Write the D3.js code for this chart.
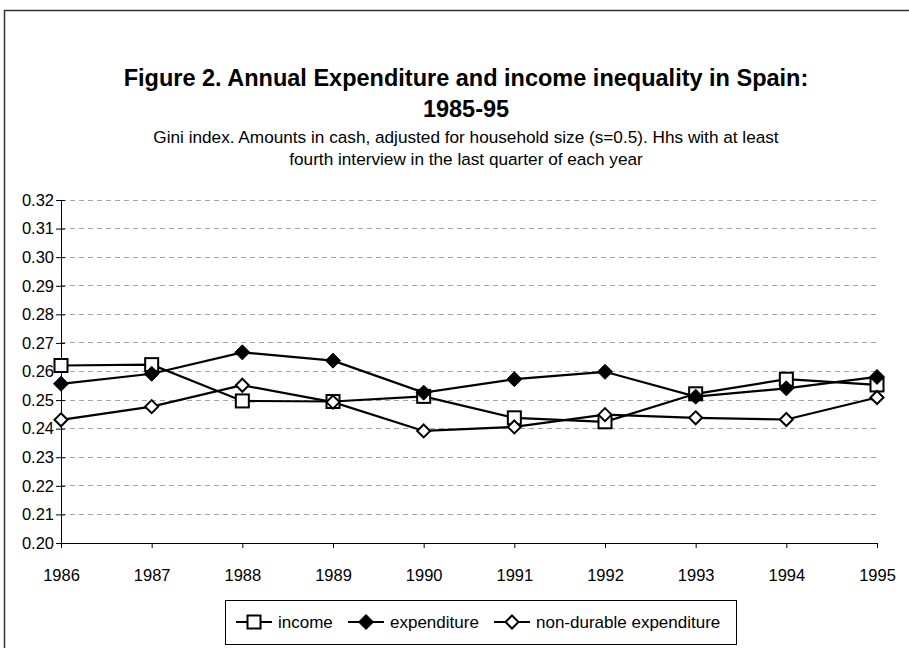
<!DOCTYPE html>
<html><head><meta charset="utf-8">
<script src="https://cdn.jsdelivr.net/npm/d3@7"></script>
<style>body{margin:0;background:#fff}svg{display:block;font-family:"Liberation Sans",Arial,sans-serif}</style>
</head><body><svg id="c" width="909" height="648"></svg>
<script>
const years = [1986,1987,1988,1989,1990,1991,1992,1993,1994,1995];
const income = [0.2621,0.2624,0.2497,0.2495,0.2513,0.2438,0.2424,0.2522,0.2573,0.2553];
const expenditure = [0.2557,0.2592,0.2667,0.2638,0.2526,0.2573,0.2599,0.2512,0.2541,0.2581];
const nonDurable = [0.2431,0.2477,0.2552,0.2493,0.2392,0.2406,0.2449,0.2438,0.2432,0.2509];
const yTicks = [0.20,0.21,0.22,0.23,0.24,0.25,0.26,0.27,0.28,0.29,0.30,0.31,0.32];
const seriesNames = ["income","expenditure","non-durable expenditure"];
const titleLines = ["Figure 2. Annual Expenditure and income inequality in Spain:","1985-95"];
const subtitleLines = ["Gini index. Amounts in cash, adjusted for household size (s=0.5). Hhs with at least","fourth interview in the last quarter of each year"];

const svg = d3.select("#c");
svg.append("rect").attr("x",4.5).attr("y",10.5).attr("width",960).attr("height",700)
  .attr("fill","#fff").attr("stroke","#333").attr("stroke-width",1.5);

const L=61,R=877,T=200,B=543;
const x = d3.scalePoint().domain(years).range([L,R]);
const y = d3.scaleLinear().domain([0.20,0.32]).range([B,T]);

const cx = 466;
svg.selectAll("text.t").data(titleLines).join("text").attr("class","t")
  .attr("x",cx).attr("y",(d,i)=>86+i*31).attr("text-anchor","middle")
  .attr("font-size",23.5).attr("font-weight","bold").text(d=>d);
svg.selectAll("text.s").data(subtitleLines).join("text").attr("class","s")
  .attr("x",cx).attr("y",(d,i)=>143+i*22).attr("text-anchor","middle")
  .attr("font-size",17.2).text(d=>d);

// gridlines
svg.append("g").selectAll("line").data(yTicks.filter(v=>v>0.20)).join("line")
  .attr("x1",L).attr("x2",R).attr("y1",d=>y(d)).attr("y2",d=>y(d))
  .attr("stroke","#a6a6a6").attr("stroke-width",1).attr("stroke-dasharray","5,4")
  .attr("shape-rendering","crispEdges");

// y axis
const ya = svg.append("g").attr("transform",`translate(${L},0)`)
  .call(d3.axisLeft(y).tickValues(yTicks).tickFormat(d3.format(".2f")).tickSize(5).tickSizeOuter(0));
ya.select(".domain").attr("stroke","#000");
ya.selectAll(".tick line").attr("x2",-5).attr("x1",4).attr("stroke","#000");
ya.selectAll("text").attr("font-size",16.5).attr("font-family","Liberation Sans, Arial").attr("fill","#000").attr("x",-7);

// x axis
const xa = svg.append("g").attr("transform",`translate(0,${B})`)
  .call(d3.axisBottom(x).tickSize(5).tickSizeOuter(0));
xa.select(".domain").attr("stroke","#000");
xa.selectAll(".tick line").attr("stroke","#000");
xa.selectAll("text").attr("font-size",16.5).attr("font-family","Liberation Sans, Arial").attr("fill","#000").attr("y",0).attr("dy",38);

function square(g,s){g.append("rect").attr("x",-s/2).attr("y",-s/2).attr("width",s).attr("height",s).attr("fill","#fff").attr("stroke","#000").attr("stroke-width",2);}
function diamond(g,s,fill){g.append("path").attr("d",`M0,${-s/2}L${s/2},0L0,${s/2}L${-s/2},0Z`).attr("fill",fill).attr("stroke","#000").attr("stroke-width",fill==="#000"?1:2);}
const markers=[g=>square(g,13),g=>diamond(g,15,"#000"),g=>diamond(g,13,"#fff")];
const data=[income,expenditure,nonDurable];
const line=d3.line().x((d,i)=>x(years[i])).y(d=>y(d));
data.forEach((vals,k)=>{
  svg.append("path").datum(vals).attr("d",line).attr("fill","none").attr("stroke","#000").attr("stroke-width",2.2);
});
data.forEach((vals,k)=>{
  vals.forEach((v,i)=>{
    const g=svg.append("g").attr("transform",`translate(${x(years[i])},${y(v)})`);
    markers[k](g);
  });
});

// legend
const lg=svg.append("g");
lg.append("rect").attr("x",225.5).attr("y",600.5).attr("width",511).attr("height",44).attr("fill","#fff").attr("stroke","#000").attr("stroke-width",1);
const items=[236,348,494];
const ly=622;
items.forEach((ix,k)=>{
  lg.append("line").attr("x1",ix).attr("x2",ix+36).attr("y1",ly).attr("y2",ly).attr("stroke","#000").attr("stroke-width",2.2);
  const g=lg.append("g").attr("transform",`translate(${ix+18},${ly})`);
  markers[k](g);
  lg.append("text").attr("x",ix+42).attr("y",ly+6).attr("font-size",17).text(seriesNames[k]);
});
</script></body></html>
